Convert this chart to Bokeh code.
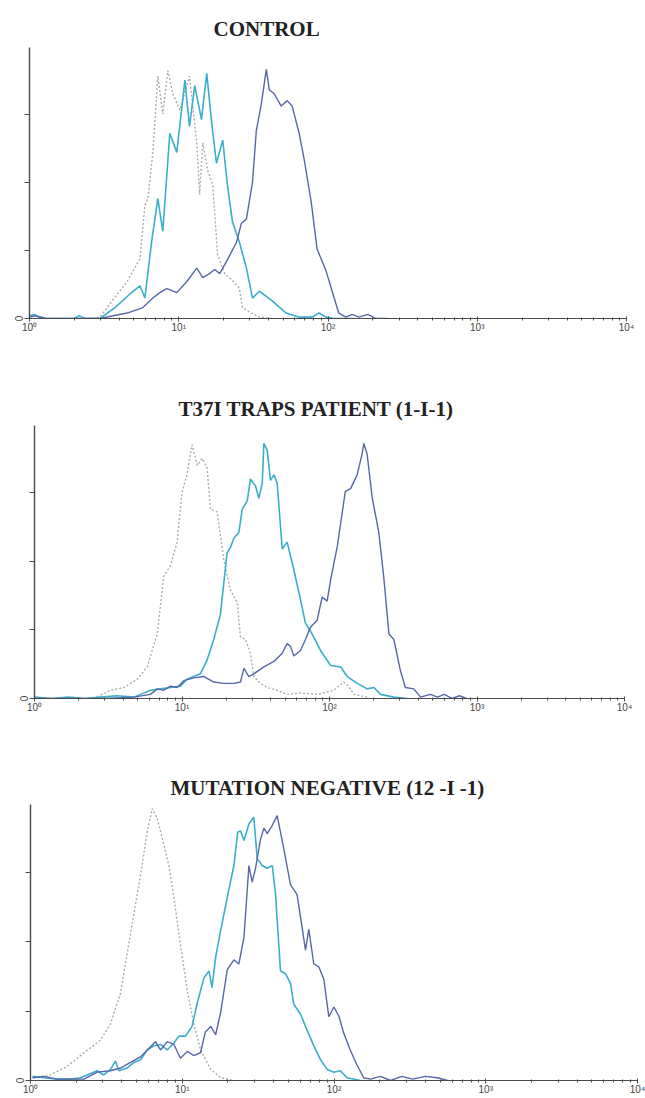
import math
from bokeh.plotting import figure
from bokeh.models import FixedTicker, Range1d, Title
from bokeh.embed import file_html
from bokeh.resources import INLINE

# ---------------- data (fluorescence intensity, cell count) ----------------
titles = ["CONTROL", "T37I TRAPS PATIENT (1-I-1)", "MUTATION  NEGATIVE  (12 -I -1)"]
x_tick_labels = {1: "10\u2070", 10: "10\u00b9", 100: "10\u00b2", 1000: "10\u00b3", 10000: "10\u2074"}
y_ticks = [0, 50, 100, 150]

# Panel 1: CONTROL
ctrl_iso_x = [2.5, 2.97, 3.47, 4.50, 5.50, 5.93, 6.21, 6.71, 7.24, 7.82, 8.45, 9.12, 10.2, 11.0, 11.8,
              13.2, 13.8, 14.5, 15.6, 16.9, 18.2, 20.3, 22.9, 25.5, 26.7, 30.7, 34.7, 42]
ctrl_iso_y = [0, 1, 11, 27, 44, 83, 88, 122, 178, 150, 182, 165, 153, 166, 178,
              129, 91, 129, 109, 98, 47, 33, 28, 22, 8, 4, 1, 0]
ctrl_cyan_x = [1.0, 1.08, 1.15, 1.25, 1.6, 2.0, 2.15, 2.25, 2.4, 2.97, 3.74, 4.71, 5.50, 5.93, 6.61,
               7.24, 7.82, 8.71, 9.70, 11.0, 11.8, 12.8, 14.2, 15.4, 16.6, 17.9, 19.7, 21.2, 22.9,
               25.5, 28.4, 31.2, 34.7, 42.3, 52.5, 64.1, 78.2, 87.1, 97, 110, 150]
ctrl_cyan_y = [2, 3, 1, 0, 0, 0, 2, 1, 0, 0, 8, 18, 24, 15, 58,
               88, 64, 136, 122, 175, 141, 171, 146, 180, 144, 114, 131, 98, 71,
               56, 37, 15, 20, 13, 4, 1, 1, 4, 1, 0, 0]
ctrl_blue_x = [1.0, 1.1, 1.3, 2.0, 2.97, 4.50, 5.75, 6.71, 7.47, 8.32, 9.70, 11.3, 13.2, 14.5, 16.1,
               17.4, 18.8, 20.9, 24.4, 26.3, 28.4, 31.2, 33.1, 35.8, 38.6, 40.4, 43.6, 48.6, 53.3,
               57.5, 64.1, 69.2, 77.1, 84.5, 97, 110, 118, 132, 145, 161, 185, 209, 250]
ctrl_blue_y = [1, 2, 0, 0, 0, 4, 8, 15, 19, 22, 19, 27, 37, 30, 33,
               36, 33, 42, 56, 70, 73, 100, 138, 158, 183, 168, 165, 156, 160,
               156, 136, 117, 86, 51, 35, 15, 4, 1, 3, 1, 3, 0, 0]

# Panel 2: T37I TRAPS patient
traps_iso_x = [2.5, 3.28, 4.03, 4.97, 5.81, 6.79, 7.53, 8.36, 9.27, 10.0, 10.8, 11.7, 12.7, 13.7, 14.8,
               15.6, 17.3, 18.2, 19.2, 21.3, 23.7, 24.9, 27.0, 29.1, 30.7, 34.0, 37.8, 44.2, 51.6,
               63.6, 82.4, 107, 125, 135, 146, 180]
traps_iso_y = [0, 6, 8, 14, 23, 47, 89, 97, 114, 150, 163, 185, 170, 175, 168,
               138, 136, 119, 101, 79, 70, 45, 43, 33, 16, 11, 8, 6, 3,
               4, 3, 6, 12, 9, 3, 1]
traps_cyan_x = [1.0, 1.3, 1.7, 2.2, 2.80, 3.63, 4.71, 5.23, 6.11, 7.15, 8.36, 9.77, 10.8, 12.0, 13.3,
                14.8, 16.4, 18.2, 20.2, 21.3, 22.5, 24.3, 25.6, 27.7, 29.1, 31.5, 33.2, 35.0, 35.9,
                37.8, 39.8, 42.0, 44.2, 47.8, 51.6, 57.3, 63.6, 68.7, 76.3, 86.9, 102, 119, 132,
                154, 180, 200, 222, 273, 336]
traps_cyan_y = [1, 0, 1, 0, 1, 2, 1, 3, 6, 7, 8, 9, 14, 16, 18,
                28, 43, 61, 106, 110, 117, 121, 138, 144, 160, 155, 146, 157, 186,
                181, 159, 163, 157, 109, 114, 94, 72, 55, 47, 35, 24, 23, 16,
                11, 7, 8, 3, 1, 0]
traps_blue_x = [1.0, 2.0, 3.0, 4.71, 6.11, 6.79, 7.53, 8.36, 9.27, 10.3, 12.0, 14.1, 16.4, 19.2, 22.5,
                24.9, 26.3, 28.4, 30.7, 35.9, 42.0, 47.8, 51.6, 54.4, 57.3, 63.6, 68.7, 74.3, 82.4,
                89.2, 96.4, 102, 113, 128, 139, 154, 166, 171, 180, 195, 216, 233, 253, 273, 303,
                327, 373, 414, 483, 540, 600, 680, 760, 850]
traps_blue_y = [0, 0, 0, 1, 3, 7, 6, 9, 8, 13, 15, 16, 12, 11, 11,
                12, 22, 16, 18, 23, 27, 33, 40, 38, 31, 35, 43, 52, 57,
                74, 71, 87, 111, 151, 153, 163, 178, 186, 178, 146, 121, 89, 47, 43, 20,
                8, 7, 1, 3, 1, 3, 0, 2, 0]

# Panel 3: mutation negative
neg_iso_x = [1.05, 1.35, 1.74, 2.25, 2.89, 3.37, 3.92, 4.33, 4.80, 5.31, 5.87, 6.34, 6.84, 7.56, 8.16,
             8.81, 9.73, 10.8, 11.9, 13.2, 15.4, 17.9, 21.9]
neg_iso_y = [2, 4, 10, 20, 29, 41, 63, 91, 120, 148, 179, 196, 189, 170, 155,
             132, 98, 65, 41, 22, 8, 2, 0]
neg_cyan_x = [1.03, 1.22, 1.50, 1.83, 2.13, 2.36, 2.75, 3.04, 3.37, 3.63, 3.82, 4.33, 4.80, 5.31, 5.87,
              6.50, 7.19, 7.96, 8.81, 9.50, 10.5, 11.6, 12.5, 13.9, 15.0, 15.7, 16.6, 17.9, 19.8,
              21.9, 23.2, 24.2, 25.5, 27.5, 29.6, 31.2, 33.6, 36.3, 39.2, 41.2, 44.4, 47.9, 51.7,
              54.3, 60.1, 64.9, 73.6, 81.5, 90.2, 99.8, 110, 122, 150]
neg_cyan_y = [3, 2, 1, 1, 2, 4, 7, 4, 8, 14, 7, 9, 13, 15, 22,
              25, 26, 22, 27, 32, 32, 39, 55, 74, 79, 67, 89, 108, 132,
              155, 179, 180, 173, 185, 190, 160, 155, 153, 155, 134, 79, 77, 70,
              55, 48, 39, 25, 15, 8, 6, 7, 2, 0]
neg_blue_x = [1.03, 1.22, 1.50, 1.83, 2.25, 2.75, 3.37, 3.92, 4.56, 5.31, 6.02, 6.66, 7.19, 7.96, 8.81,
              9.73, 10.8, 11.9, 13.2, 14.2, 15.4, 16.6, 17.9, 19.8, 21.9, 23.6, 25.5, 27.5, 28.9,
              30.4, 32.8, 34.5, 36.3, 39.2, 42.2, 46.7, 51.7, 57.1, 61.7, 64.9, 68.2, 73.6, 79.4,
              85.7, 92.4, 99.8, 108, 116, 128, 142, 157, 174, 202, 236, 280, 330, 400, 480, 560]
neg_blue_y = [2, 3, 1, 1, 1, 6, 7, 9, 13, 17, 23, 28, 22, 28, 26,
              16, 21, 18, 20, 35, 39, 33, 49, 80, 87, 84, 103, 155, 143,
              153, 174, 182, 178, 184, 191, 167, 141, 134, 110, 94, 109, 84, 82,
              73, 46, 53, 46, 34, 22, 11, 2, 1, 3, 0, 3, 1, 3, 2, 0]

# ---------------- styling ----------------
ISO_COLOR = "#ababab"
CYAN = "#3aaecb"
BLUE = "#5667a9"
AXIS = "#4a4a4a"


def make_panel(title, offset, standoff, iso, cyan, blue, width, height, left, right, top, bottom):
    p = figure(width=width, height=height, x_axis_type="log",
               x_range=Range1d(1, 10000), y_range=Range1d(0, 199),
               output_backend="svg", toolbar_location=None,
               min_border_left=left, min_border_right=right,
               min_border_top=top, min_border_bottom=bottom)
    p.title = Title(text=title, align="left", offset=offset, standoff=standoff,
                    text_font="Liberation Serif", text_font_style="bold",
                    text_font_size="21px", text_color="#222222")
    p.outline_line_color = None
    p.xgrid.visible = False
    p.ygrid.visible = False
    p.background_fill_color = "white"
    p.border_fill_color = "white"

    p.line(iso[0], iso[1], line_color=ISO_COLOR, line_width=1.4, line_dash="2 2")
    p.line(cyan[0], cyan[1], line_color=CYAN, line_width=1.6)
    p.line(blue[0], blue[1], line_color=BLUE, line_width=1.4)

    xa = p.xaxis[0]
    xa.axis_line_color = AXIS
    xa.axis_line_width = 1.2
    xa.major_tick_line_color = AXIS
    xa.minor_tick_line_color = AXIS
    xa.major_tick_in = 2
    xa.major_tick_out = 3
    xa.minor_tick_in = 1
    xa.minor_tick_out = 2
    xa.major_label_standoff = 0
    xa.major_label_overrides = x_tick_labels
    xa.major_label_text_font = "Liberation Sans"
    xa.major_label_text_font_size = "10px"
    xa.major_label_text_color = "#444444"

    ya = p.yaxis[0]
    ya.ticker = FixedTicker(ticks=y_ticks)
    ya.axis_line_color = AXIS
    ya.axis_line_width = 1.4
    ya.major_tick_line_color = AXIS
    ya.minor_tick_line_color = None
    ya.major_tick_in = 0
    ya.major_tick_out = 5
    ya.major_label_standoff = 2
    ya.major_label_overrides = {t: "" for t in y_ticks if t != 0}
    ya.major_label_orientation = "vertical"
    ya.major_label_text_font = "Liberation Sans"
    ya.major_label_text_font_size = "10px"
    ya.major_label_text_color = "#444444"
    return p


p1 = make_panel(titles[0], 184, 14, (ctrl_iso_x, ctrl_iso_y), (ctrl_cyan_x, ctrl_cyan_y),
                (ctrl_blue_x, ctrl_blue_y), 645, 345, 29, 19, 47, 27)
p2 = make_panel(titles[1], 144, 10, (traps_iso_x, traps_iso_y), (traps_cyan_x, traps_cyan_y),
                (traps_blue_x, traps_blue_y), 645, 377, 34, 21, 80, 24)
p3 = make_panel(titles[2], 140, 9, (neg_iso_x, neg_iso_y), (neg_cyan_x, neg_cyan_y),
                (neg_blue_x, neg_blue_y), 645, 376, 30, 8, 82, 18)

open("out.html", "w").write(file_html([p1, p2, p3], INLINE))
